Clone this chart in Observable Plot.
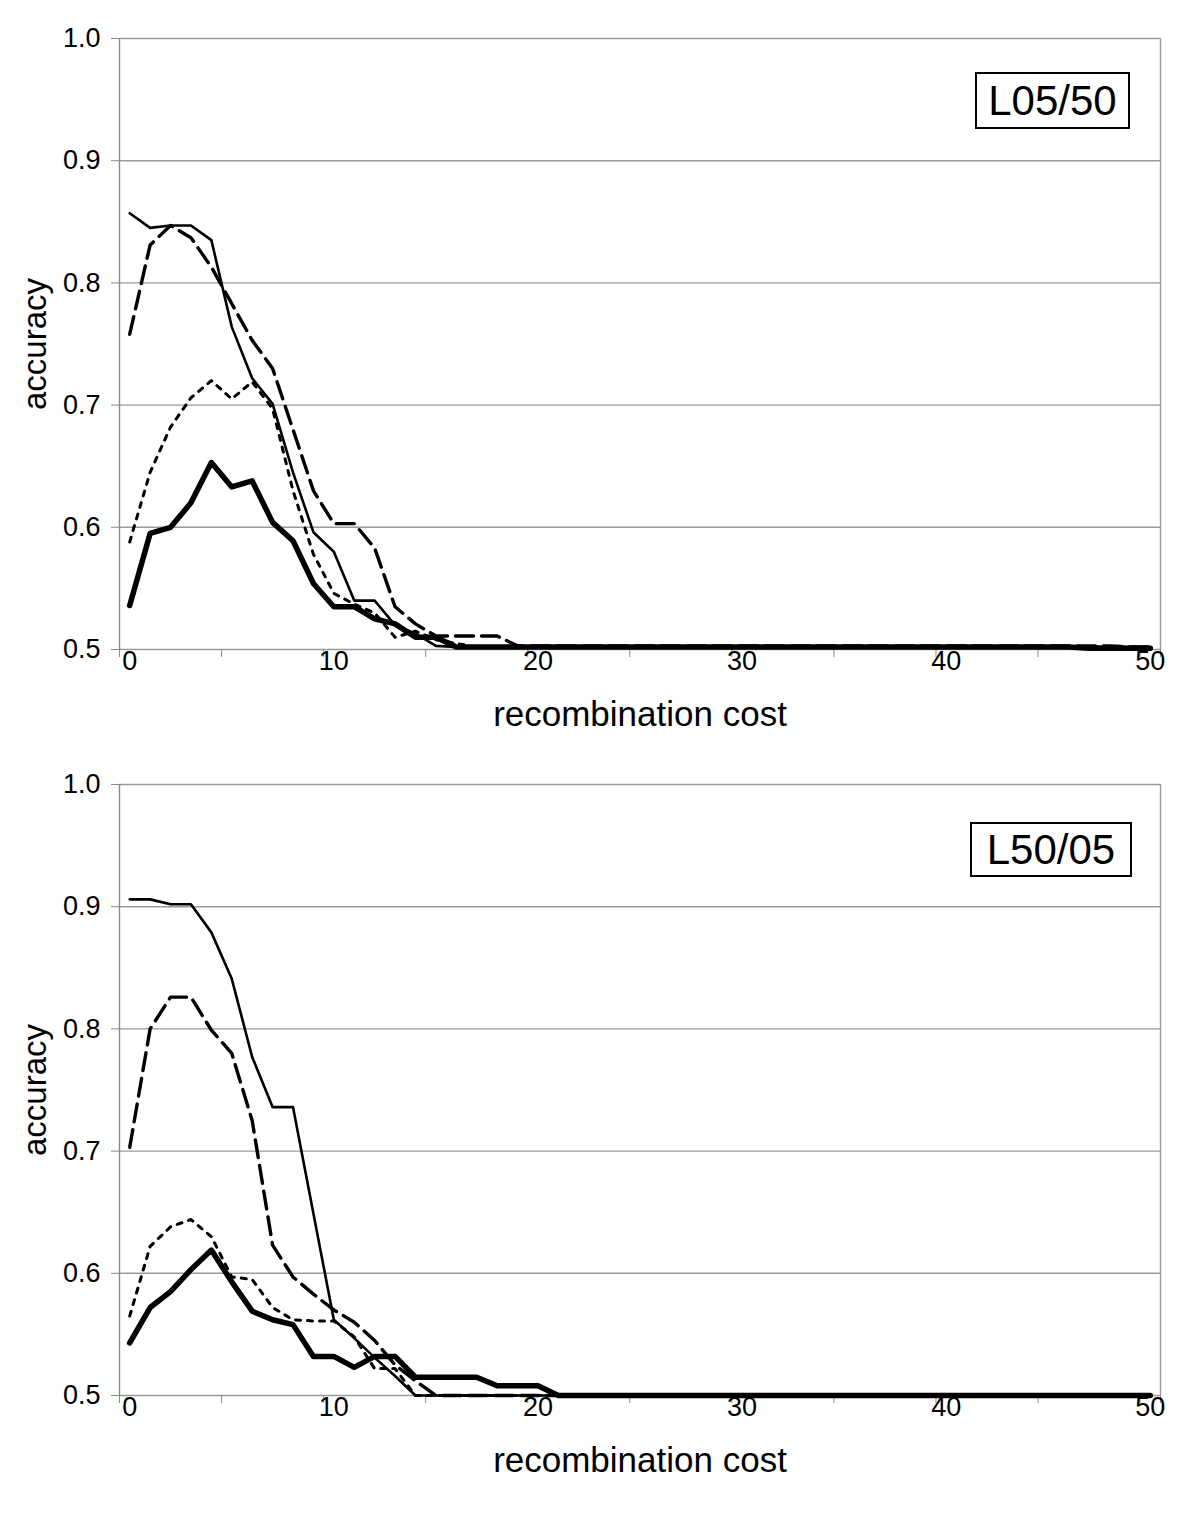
<!DOCTYPE html>
<html>
<head>
<meta charset="utf-8">
<script src="https://cdn.jsdelivr.net/npm/d3@7"></script>
<script src="https://cdn.jsdelivr.net/npm/@observablehq/plot@0.6"></script>
<style>
  html, body { margin: 0; padding: 0; background: #fff; }
  body { font-family: "Liberation Sans", Arial, sans-serif; width: 1200px; height: 1515px; }
  .panel { position: relative; width: 1200px; height: 746px; }
  .panel svg { display: block; }
  .tag { position: absolute; box-sizing: border-box; border: 2px solid #000; background: #fff;
         font-size: 42px; line-height: 1; display: flex; align-items: center; justify-content: center; color: #000; }
</style>
</head>
<body>
<div id="root"></div>
<script>
// ---- data ----
const costs = [0,1,2,3,4,5,6,7,8,9,10,11,12,13,14,15,16,17,18,19,20,21,22,23,24,25,26,27,28,29,30,31,32,33,34,35,36,37,38,39,40,41,42,43,44,45,46,47,48,49,50];
const yTicks = [0.5, 0.6, 0.7, 0.8, 0.9, 1.0];
const xLabels = [0, 10, 20, 30, 40, 50];
const xTickMarks = [-0.5, 4.5, 9.5, 14.5, 19.5, 24.5, 29.5, 34.5, 39.5, 44.5, 49.5, 50.5];
const panelTags = ["L05/50", "L50/05"];
const xTitle = "recombination cost";
const yTitle = "accuracy";

// Panel 1: L05/50
const topSolid = [0.857,0.845,0.847,0.847,0.835,0.764,0.722,0.701,0.645,0.596,0.580,0.540,0.540,0.520,0.513,0.503,
  0.502,0.502,0.502,0.502,0.502, 0.502,0.502,0.502,0.502,0.502, 0.502,0.502,0.502,0.502,0.502, 0.502,0.502,0.502,0.502,0.502,
  0.502,0.502,0.502,0.502,0.502, 0.502,0.502,0.502,0.502,0.502, 0.502,0.502,0.502,0.502,0.502];
const topDashed = [0.758,0.831,0.847,0.837,0.813,0.783,0.753,0.730,0.680,0.630,0.603,0.603,0.583,0.535,0.521,0.511,0.511,0.511,0.511,
  0.503,0.503,0.503,0.503,0.503, 0.503,0.503,0.503,0.503,0.503, 0.503,0.503,0.503,0.503,0.503, 0.503,0.503,0.503,0.503,0.503,
  0.503,0.503,0.503,0.503,0.503, 0.503,0.503,0.503,0.503,0.503, 0.502,0.502];
const topDotted = [0.588,0.645,0.682,0.706,0.720,0.705,0.719,0.697,0.630,0.578,0.546,0.537,0.530,0.510,0.515,0.508,0.505,
  0.502,0.502,0.502,0.502,0.502, 0.502,0.502,0.502,0.502,0.502, 0.502,0.502,0.502,0.502,0.502, 0.502,0.502,0.502,0.502,0.502,
  0.502,0.502,0.502,0.502,0.502, 0.502,0.502,0.502,0.502,0.502, 0.502,0.502,0.502,0.502];
const topThick = [0.536,0.595,0.600,0.620,0.653,0.633,0.638,0.604,0.589,0.554,0.535,0.535,0.525,0.521,0.510,0.510,
  0.502,0.502,0.502,0.502,0.502, 0.502,0.502,0.502,0.502,0.502, 0.502,0.502,0.502,0.502,0.502, 0.502,0.502,0.502,0.502,0.502,
  0.502,0.502,0.502,0.502,0.502, 0.502,0.502,0.502,0.502,0.502, 0.502,
  0.501,0.501,0.501,0.501];

// Panel 2: L50/05
const botSolid = [0.906,0.906,0.902,0.902,0.879,0.841,0.777,0.736,0.736,0.649,0.562,0.547,0.531,0.516,
  0.500,0.500,0.500,0.500,0.500, 0.500,0.500,0.500,0.500,0.500, 0.500,0.500,0.500,0.500,0.500, 0.500,0.500,0.500,0.500,0.500,
  0.500,0.500,0.500,0.500,0.500, 0.500,0.500,0.500,0.500,0.500, 0.500,0.500,0.500,0.500,0.500, 0.500,0.500];
const botDashed = [0.703,0.800,0.826,0.826,0.799,0.780,0.725,0.623,0.597,0.583,0.570,0.560,0.545,0.525,0.512,
  0.500,0.500,0.500,0.500,0.500, 0.500,0.500,0.500,0.500,0.500, 0.500,0.500,0.500,0.500,0.500, 0.500,0.500,0.500,0.500,0.500,
  0.500,0.500,0.500,0.500,0.500, 0.500,0.500,0.500,0.500,0.500, 0.500,0.500,0.500,0.500,0.500, 0.500];
const botDotted = [0.565,0.622,0.638,0.644,0.630,0.597,0.595,0.572,0.562,0.561,0.561,0.548,0.522,0.522,
  0.500,0.500,0.500,0.500,0.500, 0.500,0.500,0.500,0.500,0.500, 0.500,0.500,0.500,0.500,0.500, 0.500,0.500,0.500,0.500,0.500,
  0.500,0.500,0.500,0.500,0.500, 0.500,0.500,0.500,0.500,0.500, 0.500,0.500,0.500,0.500,0.500, 0.500,0.500];
const botThick = [0.543,0.572,0.585,0.603,0.619,0.593,0.569,0.562,0.558,0.532,0.532,0.523,0.532,0.532,0.515,0.515,0.515,0.515,0.508,0.508,0.508,
  0.500,0.500,0.500,0.500,0.500, 0.500,0.500,0.500,0.500,0.500, 0.500,0.500,0.500,0.500,0.500, 0.500,0.500,0.500,0.500,0.500,
  0.500,0.500,0.500,0.500,0.500, 0.500,0.500,0.500,0.500,0.500];

// ---- styles ----
const styles = {
  solid:  { stroke: "#000", strokeWidth: 2.6 },
  dashed: { stroke: "#000", strokeWidth: 3.4, strokeDasharray: "18,8" },
  dotted: { stroke: "#000", strokeWidth: 3, strokeDasharray: "5,7" },
  thick:  { stroke: "#000", strokeWidth: 5.5 }
};

function makePanel(series, tag, tagBox) {
  const rows = [];
  for (const s of series) s.values.forEach((v, i) => rows.push({ cost: costs[i], acc: v, key: s.key }));
  const lineMarks = series.map(s =>
    Plot.line(rows.filter(r => r.key === s.key), { x: "cost", y: "acc", ...styles[s.key] }));
  const chart = Plot.plot({
    width: 1200, height: 746,
    marginTop: 38, marginBottom: 97, marginLeft: 119, marginRight: 40,
    style: { fontFamily: "'Liberation Sans', Arial, sans-serif", background: "white", color: "black" },
    x: { domain: [-0.5, 50.5], axis: null },
    y: { domain: [0.5, 1.0], axis: null },
    marks: [
      Plot.ruleY(yTicks, { stroke: "#9a9a9a", strokeWidth: 1.4 }),
      Plot.ruleX([50.5], { y1: 0.5, y2: 1.0, stroke: "#9a9a9a", strokeWidth: 1.4 }),
      Plot.ruleX([-0.5], { y1: 0.5, y2: 1.0, stroke: "#8a8a8a", strokeWidth: 1.4 }),
      Plot.axisY({ anchor: "left", ticks: yTicks, tickSize: 8, tickPadding: 11, fontSize: 27,
                   tickFormat: d3.format(".1f"), stroke: "#8a8a8a", fill: "black", label: null }),
      Plot.axisX({ anchor: "bottom", ticks: xTickMarks, tickSize: 8, tickFormat: () => "",
                   stroke: "#8a8a8a", label: null }),
      Plot.axisX({ anchor: "bottom", ticks: xLabels, tickSize: 0, tickPadding: 1, fontSize: 27,
                   fill: "black", label: null }),
      ...lineMarks,
      Plot.text([yTitle], { frameAnchor: "left", textAnchor: "middle", dx: -84, rotate: -90, fontSize: 33, fill: "black" }),
      Plot.text([xTitle], { frameAnchor: "bottom", textAnchor: "middle", dy: 76, fontSize: 35, fill: "black" })
    ]
  });
  const div = document.createElement("div");
  div.className = "panel";
  div.appendChild(chart);
  const t = document.createElement("div");
  t.className = "tag";
  t.textContent = tag;
  Object.assign(t.style, { left: tagBox[0] + "px", top: tagBox[1] + "px", width: tagBox[2] + "px", height: tagBox[3] + "px" });
  div.appendChild(t);
  return div;
}

const root = document.getElementById("root");
root.appendChild(makePanel([
  { key: "solid", values: topSolid },
  { key: "dashed", values: topDashed },
  { key: "dotted", values: topDotted },
  { key: "thick", values: topThick }
], panelTags[0], [975, 72, 155, 57]));
root.appendChild(makePanel([
  { key: "solid", values: botSolid },
  { key: "dashed", values: botDashed },
  { key: "dotted", values: botDotted },
  { key: "thick", values: botThick }
], panelTags[1], [970, 76, 162, 55]));
</script>
</body>
</html>
